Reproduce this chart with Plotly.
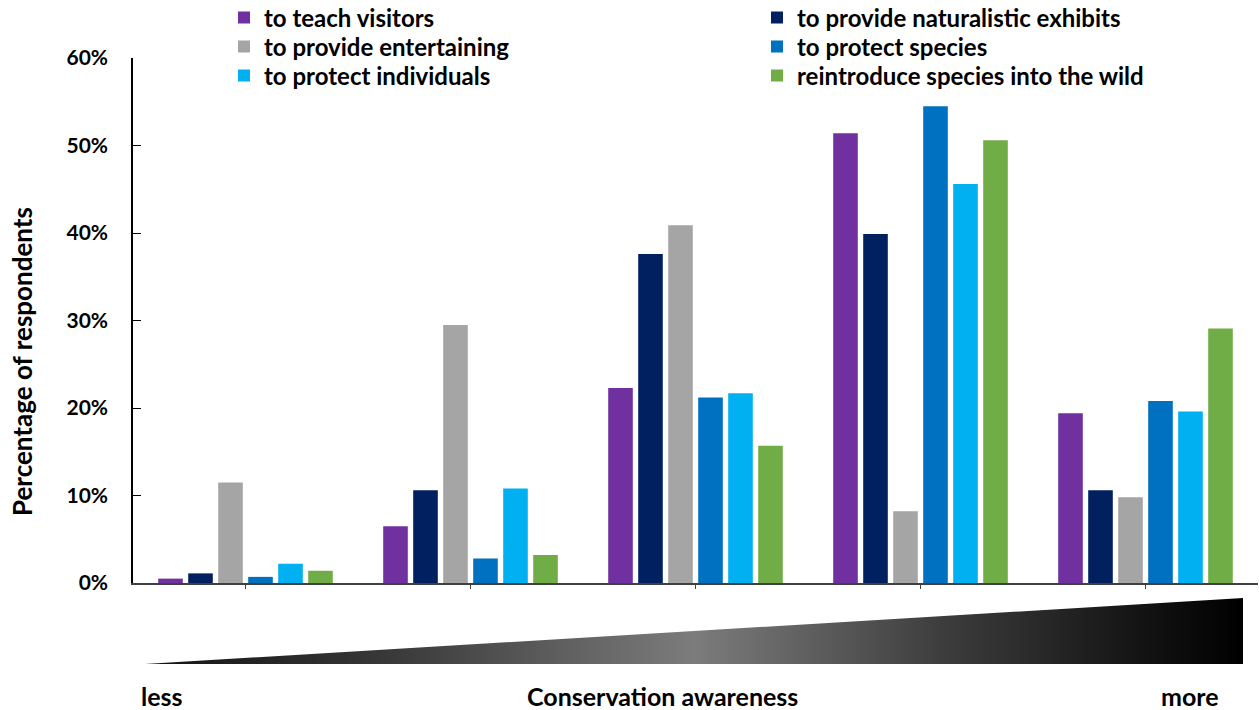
import plotly.graph_objects as go

# Awareness levels (left = less, right = more)
levels = ["1", "2", "3", "4", "5"]

# Percentage of respondents per purpose, by awareness level
teach_visitors = [0.5, 6.5, 22.3, 51.4, 19.4]
naturalistic_exhibits = [1.1, 10.6, 37.6, 39.9, 10.6]
entertaining = [11.5, 29.5, 40.9, 8.2, 9.8]
protect_species = [0.7, 2.8, 21.2, 54.5, 20.8]
protect_individuals = [2.2, 10.8, 21.7, 45.6, 19.6]
reintroduce = [1.4, 3.2, 15.7, 50.6, 29.1]

series_names = [
    "to teach visitors",
    "to provide naturalistic exhibits",
    "to provide entertaining",
    "to protect species",
    "to protect individuals",
    "reintroduce species into the wild",
]
series_values = [teach_visitors, naturalistic_exhibits, entertaining,
                 protect_species, protect_individuals, reintroduce]
series_colors = ["#7030A0", "#002060", "#A5A5A5", "#0070C0", "#00B0F0", "#70AD47"]

y_ticks = [0, 10, 20, 30, 40, 50, 60]
y_tick_labels = ["0%", "10%", "20%", "30%", "40%", "50%", "60%"]

# Wedge outline (in its own unit axes) for the awareness gradient
wedge_x = [0, 1, 1, 0]
wedge_y = [0, 0, 1, 0]

W, H = 1259, 710
L, R, T, B = 133, 1, 58, 5
PW, PH = W - L - R, H - T - B


def px(x):
    return (x - L) / PW


def py(y):
    return (H - B - y) / PH


FONT = "Lato"

# Legend is laid out in two columns of three rows; each entry gets its own box
legend_cols = [264, 797]
legend_rows = [18, 47, 76]
legend_ids = ["legend", "legend2", "legend3", "legend4", "legend5", "legend6"]

fig = go.Figure()
for i, (name, vals, color) in enumerate(zip(series_names, series_values, series_colors)):
    fig.add_trace(go.Bar(
        x=levels, y=vals, name=name, marker=dict(color=color, line=dict(width=0)),
        legend=legend_ids[i], xaxis="x", yaxis="y",
    ))

fig.add_trace(go.Scatter(
    x=wedge_x, y=wedge_y, mode="lines", fill="toself", line=dict(width=0, color="rgba(0,0,0,0)"),
    fillgradient=dict(type="horizontal", colorscale=[
        [0.0, "#121212"], [0.22, "#383838"], [0.5, "#7c7c7c"], [0.73, "#3c3c3c"],
        [0.9, "#151515"], [1.0, "#000000"]]),
    showlegend=False, hoverinfo="skip", xaxis="x2", yaxis="y2",
))

legend_common = dict(
    xanchor="left", yanchor="middle", bgcolor="rgba(0,0,0,0)", borderwidth=0,
    font=dict(family=FONT, size=24, color="#000", weight="bold"),
)
legends = {}
for i, lid in enumerate(legend_ids):
    col, row = i % 2, i // 2
    legends[lid] = dict(x=px(legend_cols[col] - 40), y=py(legend_rows[row]), **legend_common)

fig.update_layout(
    width=W, height=H,
    margin=dict(l=L, r=R, t=T, b=B, autoexpand=False),
    paper_bgcolor="white", plot_bgcolor="white",
    barmode="group", bargap=0.2, bargroupgap=0.18,
    xaxis=dict(
        domain=[0, 1], range=[-0.5, 4.5], type="category", showticklabels=False,
        ticks="outside", ticklen=4, tickcolor="#404040", showline=True, linecolor="#404040",
        linewidth=1.5, showgrid=False, zeroline=False, anchor="y",
    ),
    yaxis=dict(
        domain=[py(583), 1], range=[0, 60], tickvals=y_ticks, ticktext=y_tick_labels,
        ticks="inside", ticklen=8, tickcolor="#000", showline=True, linecolor="#000",
        linewidth=1.5, showgrid=False, zeroline=False, ticklabelstandoff=19,
        tickfont=dict(family=FONT, size=21, color="#000", weight="bold"), anchor="x",
    ),
    xaxis2=dict(domain=[px(145), px(1243)], range=[0, 1], visible=False, anchor="y2"),
    yaxis2=dict(domain=[py(664), py(598)], range=[0, 1], visible=False, anchor="x2"),
    showlegend=True,
    **legends,
)

label_font = dict(family=FONT, size=25, color="#000", weight="bold")
fig.add_annotation(text="Percentage of respondents", xref="paper", yref="paper",
                   x=px(22), y=py(362), xanchor="center", yanchor="middle",
                   textangle=-90, showarrow=False,
                   font=dict(family=FONT, size=26, color="#000", weight="bold"))
for text, xc in [("less", 162), ("Conservation awareness", 662), ("more", 1190)]:
    fig.add_annotation(text=text, xref="paper", yref="paper", x=px(xc), y=py(696),
                       xanchor="center", yanchor="middle", showarrow=False, font=label_font)

fig.write_html("out.html")
